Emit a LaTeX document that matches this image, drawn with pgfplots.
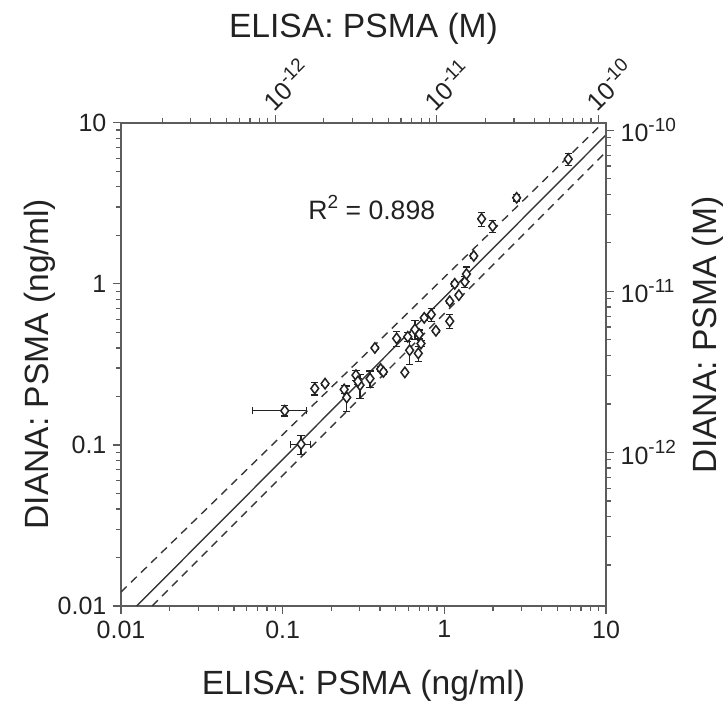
\documentclass[border=0pt]{standalone}
\usepackage{fontspec}
\setmainfont{Liberation Sans}
\usepackage{pgfplots}
\usepackage{pgfplotstable}
\pgfplotsset{compat=1.18}
\definecolor{axgray}{HTML}{5C5C5C}
\definecolor{ink}{HTML}{222222}
\newcommand\ex[1]{\raisebox{0.42em}{\fontsize{9.5}{10}\selectfont #1}}

% samples with x and y error bars
\pgfplotstableread{
x     y     ex     ey
0.103 0.163 0.038  0.012
0.130 0.101 0.018  0.014
}\psmaxy

% samples with y error bars only
\pgfplotstableread{
x     y     ey
0.158 0.224 0.020
0.183 0.240 0.005
0.240 0.221 0.012
0.249 0.197 0.035
0.284 0.271 0.020
0.301 0.235 0.040
0.292 0.248 0.010
0.347 0.258 0.030
0.372 0.400 0.010
0.404 0.296 0.010
0.420 0.284 0.010
0.507 0.458 0.050
0.570 0.282 0.005
0.594 0.469 0.030
0.610 0.387 0.070
0.658 0.521 0.070
0.700 0.487 0.030
0.717 0.426 0.020
0.690 0.370 0.040
0.751 0.615 0.020
0.830 0.645 0.060
0.887 0.511 0.010
1.080 0.780 0.020
1.080 0.586 0.060
1.160 1.000 0.030
1.230 0.850 0.020
1.340 1.030 0.080
1.370 1.150 0.120
1.520 1.490 0.060
1.700 2.530 0.250
1.990 2.280 0.200
2.800 3.420 0.150
5.840 5.950 0.500
}\psmay

\begin{document}
\begin{tikzpicture}
\useasboundingbox (-60.5pt,-51.5pt) rectangle (303pt,303pt);
\begin{axis}[
  scale only axis, width=242.5pt, height=241.65pt,
  xmode=log, ymode=log,
  tick align=outside,
  major tick length=3.8pt, minor tick length=2.4pt,
  axis line style={axgray, line width=0.8pt},
  every tick/.append style={axgray, line width=0.6pt},
  tick label style={font=\fontsize{12.5}{14}\selectfont, text=ink},
  label style={font=\fontsize{16.8}{20}\selectfont, text=ink},
  xmin=0.01, xmax=10, ymin=0.01, ymax=10,
  xtick={0.01,0.1,1,10}, xticklabels={0.01,0.1,1,10},
  ytick={0.01,0.1,1,10}, yticklabels={0.01,0.1,1,10},
  minor xtick={0.02,0.03,0.04,0.05,0.06,0.07,0.08,0.09,0.2,0.3,0.4,0.5,0.6,0.7,0.8,0.9,2,3,4,5,6,7,8,9},
  minor ytick={0.02,0.03,0.04,0.05,0.06,0.07,0.08,0.09,0.2,0.3,0.4,0.5,0.6,0.7,0.8,0.9,2,3,4,5,6,7,8,9},
  xtick pos=left, ytick pos=left,
  xlabel={ELISA: PSMA (ng/ml)},
  ylabel={DIANA: PSMA (ng/ml)},
  xlabel style={at={(axis description cs:0.5,-0.165)}, anchor=center},
  ylabel style={at={(axis description cs:-0.167,0.5)}, anchor=center},
]
  \addplot[axgray!60!black, line width=0.7pt] coordinates {(0.0125,0.01) (10,8.4)};
  \addplot[axgray!60!black, line width=0.7pt, dash pattern=on 4pt off 3pt] coordinates {(0.01,0.0122) (9.6,10)};
  \addplot[axgray!60!black, line width=0.7pt, dash pattern=on 4pt off 3pt] coordinates {(0.0156,0.01) (10,6.6)};

  \addplot[only marks, mark=diamond*, mark size=2.6pt,
    mark options={fill=white, draw=ink, line width=0.75pt},
    error bars/.cd, y dir=both, y explicit,
    error bar style={ink, line width=0.6pt},
    error mark options={rotate=90, mark size=1.8pt, ink, line width=0.6pt}]
    table[x=x, y=y, y error=ey] {\psmay};
  \addplot[only marks, mark=diamond*, mark size=2.6pt,
    mark options={fill=white, draw=ink, line width=0.75pt},
    error bars/.cd, x dir=both, x explicit, y dir=both, y explicit,
    error bar style={ink, line width=0.6pt},
    error mark options={rotate=90, mark size=1.8pt, ink, line width=0.6pt}]
    table[x=x, y=y, x error=ex, y error=ey] {\psmaxy};

  \node[font=\fontsize{13.3}{15}\selectfont, text=ink] at (axis cs:0.356,2.97) {R\ex{2} = 0.898};
\end{axis}

\begin{axis}[
  scale only axis, width=242.5pt, height=241.65pt,
  xmode=log, ymode=log,
  tick align=outside,
  major tick length=3.8pt, minor tick length=2.4pt,
  axis line style={axgray, line width=0.8pt},
  every tick/.append style={axgray, line width=0.6pt},
  tick label style={font=\fontsize{12.5}{14}\selectfont, text=ink},
  label style={font=\fontsize{16.8}{20}\selectfont, text=ink},
  xmin=1.113e-13, xmax=1.113e-10, ymin=1.113e-13, ymax=1.113e-10,
  axis x line*=top, axis y line*=right,
  xtick={1e-12,1e-11,1e-10},
  xticklabels={10\ex{-12},10\ex{-11},10\ex{-10}},
  ytick={1e-12,1e-11,1e-10},
  yticklabels={10\ex{-12},10\ex{-11},10\ex{-10}},
  minor xtick={2e-13,3e-13,4e-13,5e-13,6e-13,7e-13,8e-13,9e-13,2e-12,3e-12,4e-12,5e-12,6e-12,7e-12,8e-12,9e-12,2e-11,3e-11,4e-11,5e-11,6e-11,7e-11,8e-11,9e-11},
  minor ytick={2e-13,3e-13,4e-13,5e-13,6e-13,7e-13,8e-13,9e-13,2e-12,3e-12,4e-12,5e-12,6e-12,7e-12,8e-12,9e-12,2e-11,3e-11,4e-11,5e-11,6e-11,7e-11,8e-11,9e-11},
  x tick label style={rotate=45, anchor=south west, xshift=-3pt, yshift=-2.5pt},
  xlabel={ELISA: PSMA (M)},
  ylabel={DIANA: PSMA (M)},
  xlabel style={at={(axis description cs:0.5,1.195)}, anchor=center},
  ylabel style={at={(axis description cs:1.21,0.561)}, anchor=center},
]
\end{axis}
\end{tikzpicture}
\end{document}
